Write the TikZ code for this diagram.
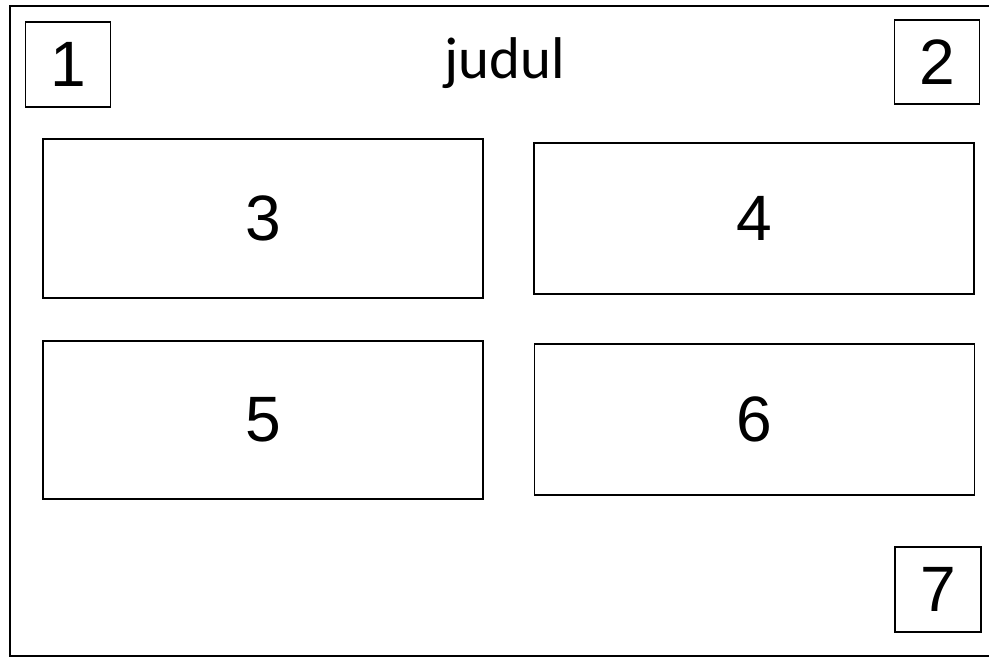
\documentclass[tikz,border=0pt]{standalone}
\usepackage{fontspec}
\usepackage{tikz}
\usetikzlibrary{positioning}
\newfontfamily\digitfont{Liberation Sans}
\newfontfamily\titlefont{Carlito}

\begin{document}
\begin{tikzpicture}
    \tikzstyle{panel} = [rectangle, draw=black, line width=1pt, inner sep=0pt,
        font=\digitfont\fontsize{36.5}{40}\selectfont]
    \tikzstyle{corner} = [panel, minimum width=1.70cm, minimum height=1.70cm]
    \tikzstyle{bigbox} = [panel, minimum width=8.80cm]
    \useasboundingbox (0,0) rectangle (19.78,-13.14);
    % frame (right side runs off the page)
    \draw [line width=1.2pt] (19.90,-0.12) -- (0.20,-0.12) -- (0.20,-13.12) -- (19.90,-13.12);
    % header
    \node (one) [corner] at (1.36,-1.29) {1};
    \node (title) [anchor=base, font=\titlefont\fontsize{33.5}{38}\selectfont] at (10.10,-1.58) {judul};
    \node (two) [corner, minimum height=1.68cm] at (18.74,-1.24) {2};
    % content panels
    \node (three) [bigbox, minimum height=3.18cm] at (5.26,-4.37) {3};
    \node (four) [bigbox, minimum height=3.02cm] at (15.08,-4.37) {4};
    \node (five) [bigbox, minimum height=3.16cm] at (5.26,-8.40) {5};
    \node (six) [bigbox, minimum height=3.02cm] at (15.09,-8.39) {6};
    % footer
    \node (seven) [corner, minimum width=1.72cm] at (18.76,-11.79) {7};
\end{tikzpicture}
\end{document}
